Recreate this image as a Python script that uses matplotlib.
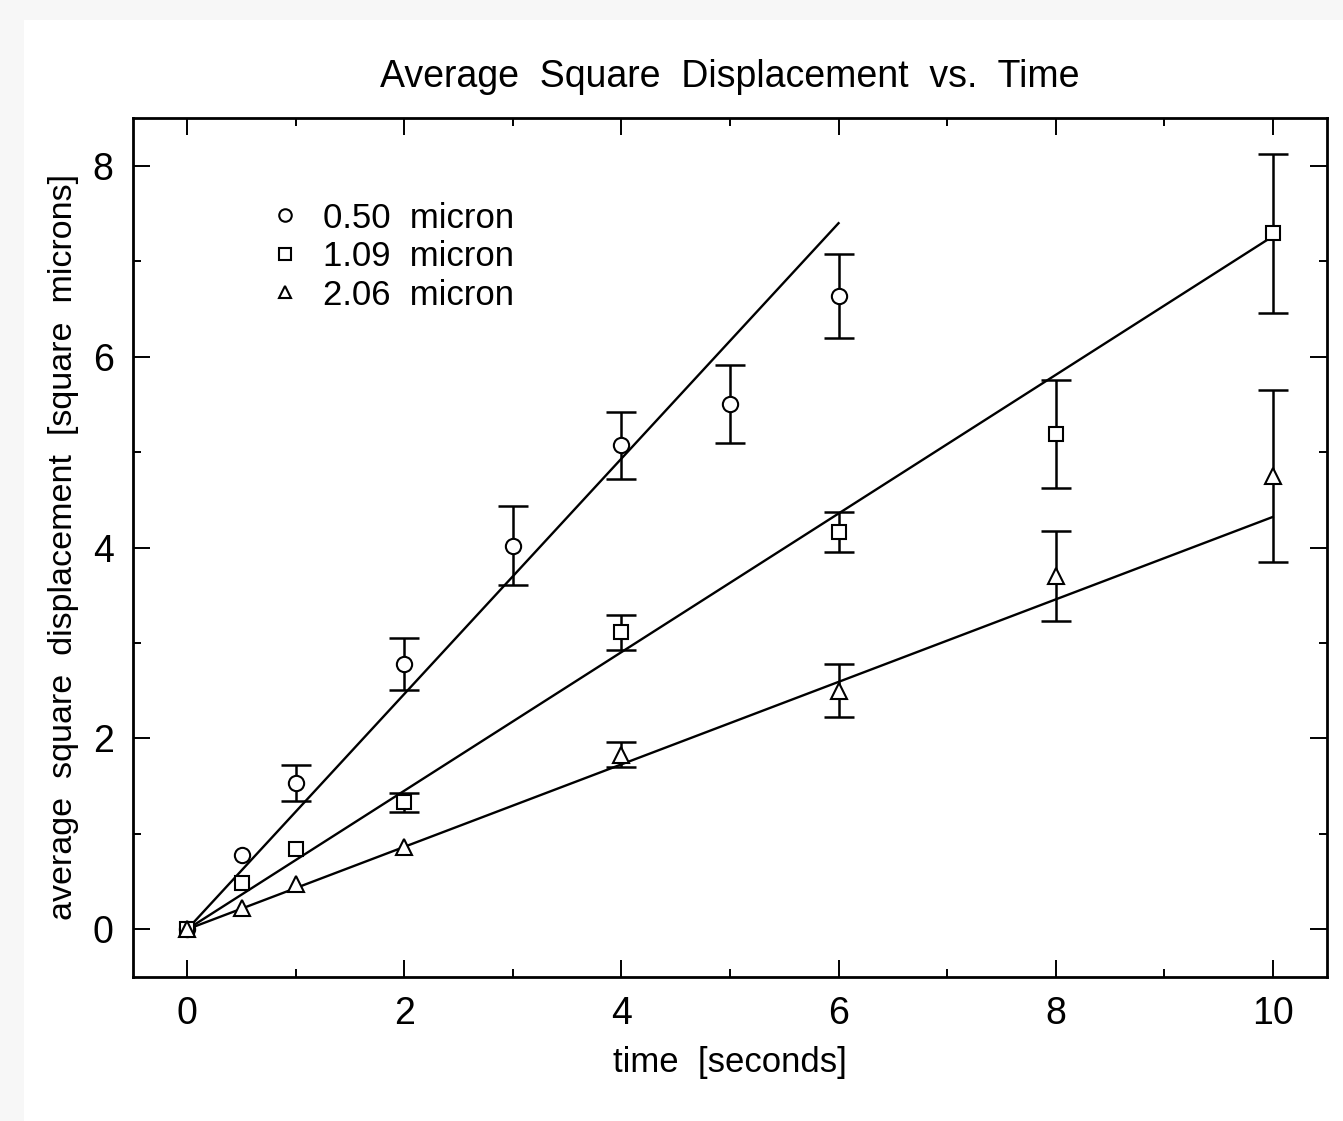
import numpy as np
import matplotlib
matplotlib.use("Agg")
import matplotlib.pyplot as plt
from matplotlib.lines import Line2D
from matplotlib.patches import Rectangle
from matplotlib.ticker import MultipleLocator

# data
labels = ["0.50  micron", "1.09  micron", "2.06  micron"]
markers = ["o", "s", "^"]

t_050 = [0, 0.5, 1, 2, 3, 4, 5, 6]
d_050 = [0, 0.78, 1.53, 2.78, 4.02, 5.07, 5.50, 6.63]
e_050 = [0, 0, 0.19, 0.27, 0.41, 0.35, 0.41, 0.44]

t_109 = [0, 0.5, 1, 2, 4, 6, 8, 10]
d_109 = [0, 0.48, 0.84, 1.33, 3.11, 4.16, 5.19, 7.29]
e_109 = [0, 0, 0, 0.10, 0.18, 0.21, 0.57, 0.83]

t_206 = [0, 0.5, 1, 2, 4, 6, 8, 10]
d_206 = [0, 0.22, 0.47, 0.86, 1.83, 2.50, 3.70, 4.75]
e_206 = [0, 0, 0, 0, 0.13, 0.28, 0.47, 0.90]

fit_slope = [1.233, 0.726, 0.432]
fit_end = [6, 10, 10]

series = [(t_050, d_050, e_050), (t_109, d_109, e_109), (t_206, d_206, e_206)]

plt.rcParams['font.family'] = ['Liberation Sans', 'DejaVu Sans']

fig = plt.figure(figsize=(13.43, 11.21), dpi=100)
fig.patch.set_facecolor('#f7f7f7')
fig.patches.append(Rectangle((24 / 1343, 0), 1, 1 - 20 / 1121, transform=fig.transFigure,
                             facecolor='white', edgecolor='none', zorder=-1))

ax = fig.add_axes([133 / 1343, 1 - 977 / 1121, (1327 - 133) / 1343, (977 - 118) / 1121])

for (t, d, e), m, k, end in zip(series, markers, fit_slope, fit_end):
    t, d, e = np.array(t), np.array(d), np.array(e)
    ax.plot([0, end], [0, k * end], color='black', lw=1.7, zorder=2)
    has = e > 0
    ax.errorbar(t[has], d[has], yerr=e[has], fmt='none', ecolor='black',
                elinewidth=1.8, capsize=11, capthick=1.8, zorder=3)
    ax.plot(t, d, ls='none', marker=m, ms=11 if m != 's' else 10, mfc='white',
            mec='black', mew=1.5, zorder=4)

handles = [Line2D([], [], ls='none', marker=m, ms=9, mfc='white', mec='black', mew=1.5)
           for m in markers]
ax.legend(handles, labels, loc='upper left', bbox_to_anchor=(0.098, 0.923), frameon=False,
          fontsize=25, handlelength=1.0, handletextpad=0.61, labelspacing=0.16, borderpad=0)

ax.set_xlim(-0.5, 10.5)
ax.set_ylim(-0.5, 8.5)
ax.set_xticks([0, 2, 4, 6, 8, 10])
ax.set_yticks([0, 2, 4, 6, 8])
ax.xaxis.set_minor_locator(MultipleLocator(1))
ax.yaxis.set_minor_locator(MultipleLocator(1))
ax.tick_params(which='both', direction='in', top=True, right=True, width=1.4)
ax.tick_params(which='major', length=12, labelsize=27, pad=14)
ax.tick_params(which='minor', length=6)
for s in ax.spines.values():
    s.set_linewidth(2)

ax.set_xlabel('time  [seconds]', fontsize=25, labelpad=10)
ax.set_ylabel('average  square  displacement  [square  microns]', fontsize=24.5, labelpad=10)
ax.set_title('Average  Square  Displacement  vs.  Time', fontsize=27, pad=22)

fig.savefig('out.png', dpi=100, facecolor=fig.get_facecolor())
